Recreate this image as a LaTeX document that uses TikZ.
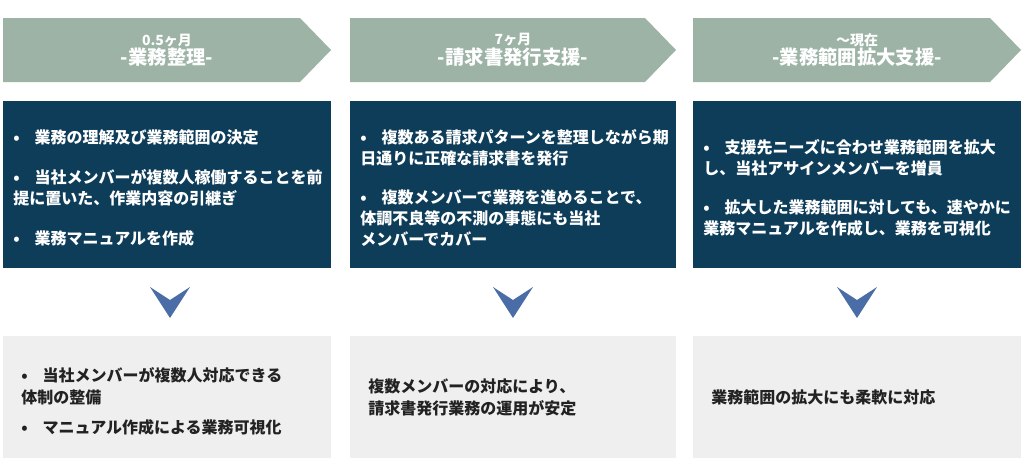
\documentclass[tikz,border=0pt]{standalone}
\usepackage{fontspec}
\setmainfont{Noto Sans CJK JP}
\definecolor{sage}{HTML}{9CB3A6}
\definecolor{navy}{HTML}{0E3D5A}
\definecolor{chev}{HTML}{4A6DA7}
\definecolor{pale}{HTML}{EFEFEF}
\definecolor{ink}{HTML}{222222}
\newcommand{\itm}[1]{\par\hangindent=16pt\hangafter=1\noindent\makebox[16pt][l]{•}#1}
\newcommand{\gap}{\par\vspace{14pt}}
\tikzset{
  hdtext/.style={text=white, align=center, font=\bfseries},
  tasktext/.style={text=white, anchor=west, text width=245pt, align=left, inner sep=0pt, font=\fontsize{12}{15.75}\selectfont\bfseries},
  restext/.style={text=ink, anchor=west, text width=235pt, align=left, inner sep=0pt, font=\fontsize{12}{16.5}\selectfont\bfseries}
}
\begin{document}
\begin{tikzpicture}[x=0.75pt, y=-0.75pt]
            \useasboundingbox (0,0) rectangle (1024,475);
            % three columns: left edge, right edge
            \foreach \i/\l/\r in {1/3/331, 2/350/676, 3/693/1021} {
                \fill[sage] (\l,18) -- (\r-31,18) -- (\r,50) -- (\r-31,82) -- (\l,82) -- cycle;
                \fill[navy] (\l,101) rectangle (\r,268);
                \fill[pale] (\l,336) rectangle (\r,458);
                \coordinate (task\i) at (\l+10,184.5);
                \coordinate (res\i) at (\l+18,397);
            }
            \foreach \i/\c in {1/170, 2/513, 3/857}
                \fill[chev] (\c-20,287) -- (\c,300) -- (\c+20,287) -- (\c,318) -- cycle;

            \node[hdtext] (hd1) at (167,50) {\fontsize{10.5}{12}\selectfont 0.5ヶ月\\[0pt]\fontsize{14.5}{17}\selectfont -業務整理-};
            \node[hdtext] (hd2) at (513,50) {\fontsize{10.5}{12}\selectfont 7ヶ月\\[0pt]\fontsize{14.5}{17}\selectfont -請求書発行支援-};
            \node[hdtext] (hd3) at (857,50) {\fontsize{10.5}{12}\selectfont 〜現在\\[0pt]\fontsize{14.5}{17}\selectfont -業務範囲拡大支援-};

            \node[tasktext] (t1) at (task1) {\itm{業務の理解及び業務範囲の決定}\gap
                \itm{当社メンバーが複数人稼働することを前\\提に置いた、作業内容の引継ぎ}\gap
                \itm{業務マニュアルを作成}};
            \node[tasktext] (t2) at (task2) {\itm{複数ある請求パターンを整理しながら期\\日通りに正確な請求書を発行}\gap
                \itm{複数メンバーで業務を進めることで、\\体調不良等の不測の事態にも当社\\メンバーでカバー}};
            \node[tasktext] (t3) at (task3) {\itm{支援先ニーズに合わせ業務範囲を拡大\\し、当社アサインメンバーを増員}\gap
                \itm{拡大した業務範囲に対しても、速やかに\\業務マニュアルを作成し、業務を可視化}};

            \node[restext] (r1) at (res1) {\itm{当社メンバーが複数人対応できる\\体制の整備}\par\vspace{6pt}
                \itm{マニュアル作成による業務可視化}};
            \node[restext] (r2) at (res2) {複数メンバーの対応により、\\請求書発行業務の運用が安定};
            \node[restext] (r3) at (res3) {業務範囲の拡大にも柔軟に対応};
        \end{tikzpicture}
\end{document}
